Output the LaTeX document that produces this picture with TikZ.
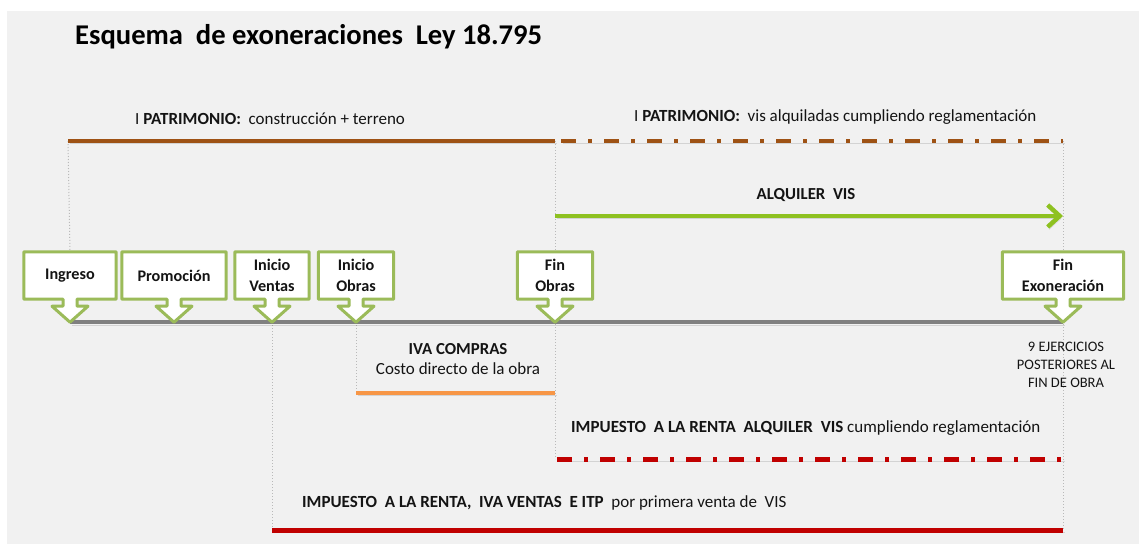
\documentclass[tikz,border=0pt]{standalone}
\usepackage{fontspec}
\setmainfont{Carlito}
\usetikzlibrary{arrows.meta}
\pgfdeclarelayer{back}
\pgfdeclarelayer{bg}
\pgfsetlayers{back,bg,main}
\definecolor{bggray}{RGB}{241,241,241}
\definecolor{brownline}{RGB}{158,82,20}
\definecolor{limegreen}{RGB}{142,193,33}
\definecolor{callgreen}{RGB}{155,187,89}
\definecolor{redline}{RGB}{192,0,0}
\definecolor{orangeline}{RGB}{247,150,70}
\definecolor{tlgray}{RGB}{128,128,128}
\definecolor{guidegray}{RGB}{185,185,185}
\definecolor{txt}{RGB}{20,20,20}
\tikzset{
  callbox/.style={minimum height=47pt, inner sep=0pt, align=center,
    font=\fontsize{16.2}{20.5}\selectfont\bfseries, text=txt},
  callline/.style={draw=callgreen, line width=3pt, fill=white, line join=round},
  guide/.style={draw=guidegray, line width=1pt, dash pattern=on 1pt off 2pt},
  timeline/.style={draw=tlgray, line width=4pt},
  lab/.style={font=\fontsize{17}{20}\selectfont, text=txt, inner sep=0pt},
  blab/.style={font=\fontsize{16.8}{20}\selectfont\bfseries, text=txt, inner sep=0pt},
  smalllab/.style={font=\fontsize{14.5}{18}\selectfont, text=txt, inner sep=0pt, align=center},
  dashdotline/.style={line width=4.5pt, dash pattern=on 15pt off 12pt on 4pt off 12pt},
  shad/.style={preaction={draw=black, draw opacity=0.12, transform canvas={shift={(1.5pt,-2.5pt)}}}},
}
\newcommand\mycallout[4]{%
  \node[callbox, minimum width=#3] (#1) at (#2,275.5) {#4};
  \begin{pgfonlayer}{bg}
  \draw[callline] (#1.north west) -- (#1.north east) -- (#1.south east)
    -- ([xshift=7pt]#1.south) -- ([xshift=7pt,yshift=-7pt]#1.south)
    -- ([xshift=18pt,yshift=-7pt]#1.south) -- ([yshift=-23pt]#1.south)
    -- ([xshift=-18pt,yshift=-7pt]#1.south) -- ([xshift=-7pt,yshift=-7pt]#1.south)
    -- ([xshift=-7pt]#1.south) -- (#1.south west) -- cycle;
  \end{pgfonlayer}
  \coordinate (#1tip) at ([yshift=-23pt]#1.south);
}
\begin{document}
\begin{tikzpicture}[x=1pt,y=-1pt]
\useasboundingbox (0,0) rectangle (1139,544);
\begin{pgfonlayer}{back}
\fill[white] (0,0) rectangle (1139,544);
\fill[bggray] (7,11) rectangle (1139,544);
\end{pgfonlayer}

% title
\node[anchor=base west, inner sep=0pt, font=\fontsize{28.6}{32}\selectfont\bfseries, text=black] (title) at (75,44) {Esquema\ \ de exoneraciones\ \ Ley 18.795};

% callouts
\mycallout{ingreso}{70}{92pt}{Ingreso}
\mycallout{promo}{174}{104pt}{Promoción}
\mycallout{ventas}{272}{74pt}{Inicio\\Ventas}
\mycallout{obras}{356}{75pt}{Inicio\\Obras}
\mycallout{finobras}{555}{75pt}{Fin\\Obras}
\mycallout{finexo}{1063}{121pt}{Fin\\Exoneración}

% coordinates
\coordinate (b1) at (68,141);
\coordinate (b2) at (555,141);
\coordinate (b2d) at (561,141);
\coordinate (b3) at (1063,141);
\coordinate (g1) at (555,216);
\coordinate (g2) at (1063,216);
\coordinate (o1) at (356,393);
\coordinate (o2) at (555,393);
\coordinate (r1) at (557,459);
\coordinate (r0) at (555,459);
\coordinate (r2) at (1063,459);
\coordinate (s1) at (272,530);
\coordinate (s2) at (1063,530);

\begin{pgfonlayer}{back}
\draw[guide] (b1) -- (ingreso.north);
\draw[guide] (b2) -- (r0);
\draw[guide] (b3) -- (s2);
\draw[guide] (ventastip) -- (s1);
\draw[guide] (obrastip) -- (o1);
\draw[timeline, shad] (ingresotip) -- (finexotip);
\end{pgfonlayer}

% patrimonio lines
\draw[draw=brownline, line width=4.5pt, shad] (b1) -- (b2);
\draw[draw=brownline, dashdotline, shad] (b2d) -- (b3);
\node[lab, anchor=base west] (patri1) at (135,124) {I \textbf{PATRIMONIO:}\ \ construcción + terreno};
\node[lab, anchor=base west] (patri2) at (634,121) {I \textbf{PATRIMONIO:}\ \ vis alquiladas cumpliendo reglamentación};

% alquiler
\draw[draw=limegreen, line width=4.5pt, shad, -{Straight Barb[length=12pt,width=22pt]}] (g1) -- (g2);
\node[blab] (alq) at (806,195) {ALQUILER\ \ VIS};

% IVA compras
\draw[draw=orangeline, line width=3.5pt, shad] (o1) -- (o2);
\node[blab] (iva) at (458,349) {IVA COMPRAS};
\node[lab] (costo) at (458,369) {Costo directo de la obra};

% 9 ejercicios
\node[smalllab] (ejer) at (1066,365) {9 EJERCICIOS\\POSTERIORES\ AL\\FIN DE OBRA};

% impuestos
\draw[draw=redline, dashdotline, line width=5pt, shad] (r1) -- (r2);
\node[lab, anchor=west] (irae) at (571,428) {\textbf{IMPUESTO\ \ A LA RENTA\ \ ALQUILER\ \ VIS} cumpliendo reglamentación};
\draw[draw=redline, line width=5pt, shad] (s1) -- (s2);
\node[lab, anchor=west] (irven) at (302,503) {\textbf{IMPUESTO\ \ A LA RENTA,\ \ IVA VENTAS\ \ E ITP}\ \ por primera venta de\ \ VIS};
\end{tikzpicture}
\end{document}
